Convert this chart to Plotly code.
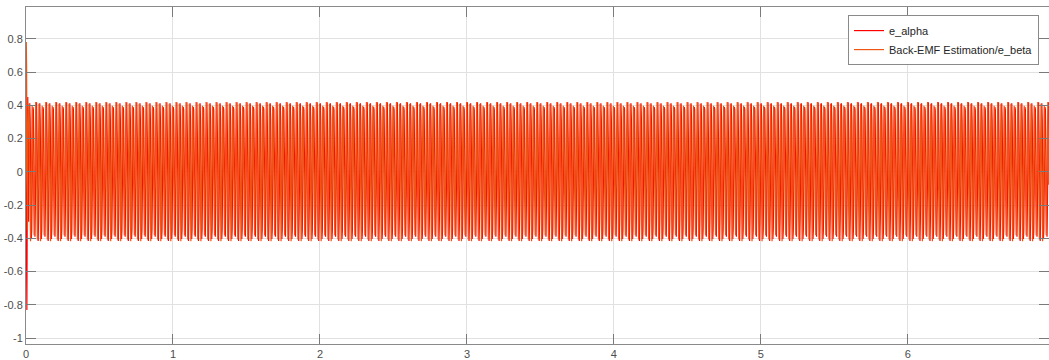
import numpy as np
import plotly.graph_objects as go

# ---- data ----
series_names = ["e_alpha", "Back-EMF Estimation/e_beta"]

# initial transient (time in s)
transient_t = [0.000, 0.002, 0.004, 0.006, 0.008, 0.010, 0.012, 0.014, 0.016, 0.018]
alpha_transient = [0.00, -0.15, -0.50, -0.83, -0.35, 0.15, 0.45, 0.20, -0.15, -0.30]
beta_transient = [0.00, 0.78, 0.64, 0.25, -0.10, -0.35, -0.05, 0.30, 0.40, 0.35]

# steady-state waveform samples (3 cycles, repeating)
alpha_cycle = [0.000, 0.281, 0.412, 0.316, 0.051, -0.241, -0.403, -0.346, -0.102,
               0.198, 0.390, 0.371, 0.151, -0.151, -0.371, -0.390, -0.198, 0.102,
               0.346, 0.418, 0.241, -0.051, -0.316, -0.415, -0.281]
beta_cycle = [0.410, 0.299, 0.026, -0.261, -0.417, -0.332, -0.077, 0.220, 0.397,
              0.359, 0.127, -0.175, -0.381, -0.381, -0.175, 0.127, 0.359, 0.420,
              0.220, -0.077, -0.332, -0.407, -0.261, 0.026, 0.299]
steady_start = 0.020
sample_step = 0.002727
t_end = 6.96

x_tickvals = [0, 1, 2, 3, 4, 5, 6]
x_ticktext = ["0", "1", "2", "3", "4", "5", "6"]
y_tickvals = [-1, -0.8, -0.6, -0.4, -0.2, 0, 0.2, 0.4, 0.6, 0.8]
y_ticktext = ["-1", "-0.8", "-0.6", "-0.4", "-0.2", "0", "0.2", "0.4", "0.6", "0.8"]

# ---- assemble series ----
n_steady = int((t_end - steady_start) / sample_step) + 1
reps = n_steady // len(alpha_cycle) + 1
alpha_steady = np.tile(alpha_cycle, reps)[:n_steady]
beta_steady = np.tile(beta_cycle, reps)[:n_steady]
t_steady = steady_start + sample_step * np.arange(n_steady)

t = np.concatenate([transient_t, t_steady])
e_alpha = np.concatenate([alpha_transient, alpha_steady])
e_beta = np.concatenate([beta_transient, beta_steady])

fig = go.Figure()
fig.add_trace(go.Scatter(x=t, y=e_alpha, mode="lines", name=series_names[0],
                         line=dict(color="#FF0000", width=1.2)))
fig.add_trace(go.Scatter(x=t, y=e_beta, mode="lines", name=series_names[1],
                         line=dict(color="#EE5512", width=1.2)))

axis_common = dict(
    showgrid=True, gridcolor="#E1E1E1", gridwidth=1,
    zeroline=False, showline=True, linecolor="#8A8A8A", linewidth=1,
    ticks="inside", ticklen=10, tickcolor="#7A7A7A", tickwidth=1,
    mirror="ticks",
    tickfont=dict(family="Liberation Sans, Arial, sans-serif", size=11, color="#4D4D4D"),
)

fig.update_layout(
    width=1049, height=360,
    margin=dict(l=26, r=0, t=7, b=16),
    paper_bgcolor="white", plot_bgcolor="white",
    showlegend=True,
    legend=dict(
        x=0.9902, y=0.976, xanchor="right", yanchor="top",
        bgcolor="white", bordercolor="#8A8A8A", borderwidth=1,
        font=dict(family="Liberation Sans, Arial, sans-serif", size=11, color="#262626"),
        tracegroupgap=0, itemwidth=30,
    ),
    xaxis=dict(range=[0, 6.96], tickvals=x_tickvals, ticktext=x_ticktext, **axis_common),
    yaxis=dict(range=[-1.035, 0.991], tickvals=y_tickvals, ticktext=y_ticktext, **axis_common),
)

fig.write_html("out.html")
